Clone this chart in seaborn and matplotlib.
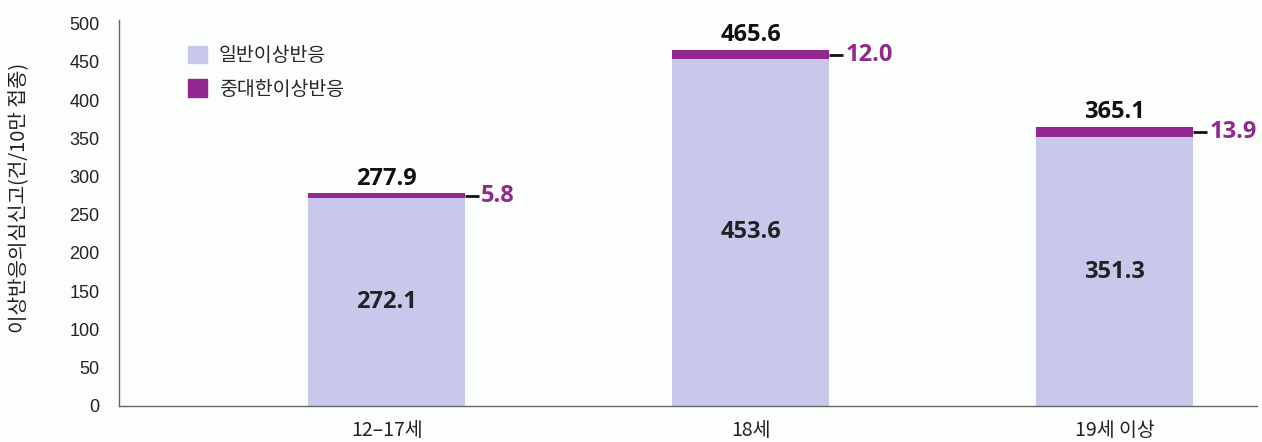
import matplotlib
matplotlib.use("Agg")
import matplotlib.pyplot as plt
import matplotlib.patches as mpatches
import seaborn as sns
import pandas as pd

categories = ["12–17세", "18세", "19세 이상"]
general = [272.1, 453.6, 351.3]
severe = [5.8, 12.0, 13.9]
totals = [277.9, 465.6, 365.1]
series_names = ["일반이상반응", "중대한이상반응"]
y_label = "이상반응의심신고(건/10만 접종)"

LAV = "#C8C8EC"
PUR = "#92278F"
BG = "#FBFEFB"

sns.set_theme(style="white")
plt.rcParams['font.family'] = ['Noto Sans CJK KR', 'DejaVu Sans']

df = pd.DataFrame({"cat": categories, "general": general, "severe": severe, "total": totals})

fig = plt.figure(figsize=(12.62, 4.42), dpi=100, facecolor=BG)
ax = fig.add_axes([0.0943, 0.082, 0.9017, 0.873])
ax.set_facecolor(BG)

W = 0.43
sns.barplot(data=df, x="cat", y="total", color=PUR, width=W, saturation=1, ax=ax,
            order=categories, linewidth=0, edgecolor='none')
sns.barplot(data=df, x="cat", y="general", color=LAV, width=W, saturation=1, ax=ax,
            order=categories, linewidth=0, edgecolor='none')

ax.set_xlim(-0.735, 2.391)
ax.set_ylim(0, 505)
ax.set_yticks(range(0, 501, 50))
for lab in ax.get_yticklabels():
    lab.set_fontfamily('Liberation Sans')
    lab.set_fontsize(13)
ax.tick_params(axis='y', direction='in', length=10, width=1, color='#555555', pad=14, labelcolor='#222222')
ax.tick_params(axis='x', length=0, pad=10, labelsize=14, labelcolor='#222222')
ax.set_xlabel("")
ax.set_ylabel(y_label, fontsize=14.5, color='#222222')
ax.yaxis.set_label_coords(-0.078, 0.54)

for s in ['top', 'right']:
    ax.spines[s].set_visible(False)
for s in ['left', 'bottom']:
    ax.spines[s].set_color('#666666')
    ax.spines[s].set_linewidth(1)

NUMF = ['Open Sans', 'DejaVu Sans']
for i in range(len(categories)):
    g, sv, t = general[i], severe[i], totals[i]
    ax.annotate(f"{t:.1f}", (i, t), xytext=(0, 2), textcoords='offset points',
                ha='center', va='bottom', fontsize=17, fontweight='bold', color='#111111',
                family=NUMF)
    ax.text(i, g / 2, f"{g:.1f}", ha='center', va='center', fontsize=17, fontweight='bold',
            color='#222222', family=NUMF)
    ymid = g + sv / 2
    ax.plot([i + W / 2, i + W / 2 + 0.04], [ymid, ymid], color='#111111', lw=2, solid_capstyle='butt')
    ax.text(i + W / 2 + 0.045, ymid, f"{sv:.1f}", ha='left', va='center', fontsize=17,
            fontweight='bold', color=PUR, family=NUMF)

handles = [mpatches.Patch(color=LAV, label=series_names[0]),
           mpatches.Patch(color=PUR, label=series_names[1])]
ax.legend(handles=handles, loc='upper left', bbox_to_anchor=(0.045, 0.98), frameon=False,
          fontsize=14, handlelength=1.0, handleheight=1.0, handletextpad=0.6, labelspacing=0.65)

fig.savefig("out.png", dpi=100, facecolor=BG)
